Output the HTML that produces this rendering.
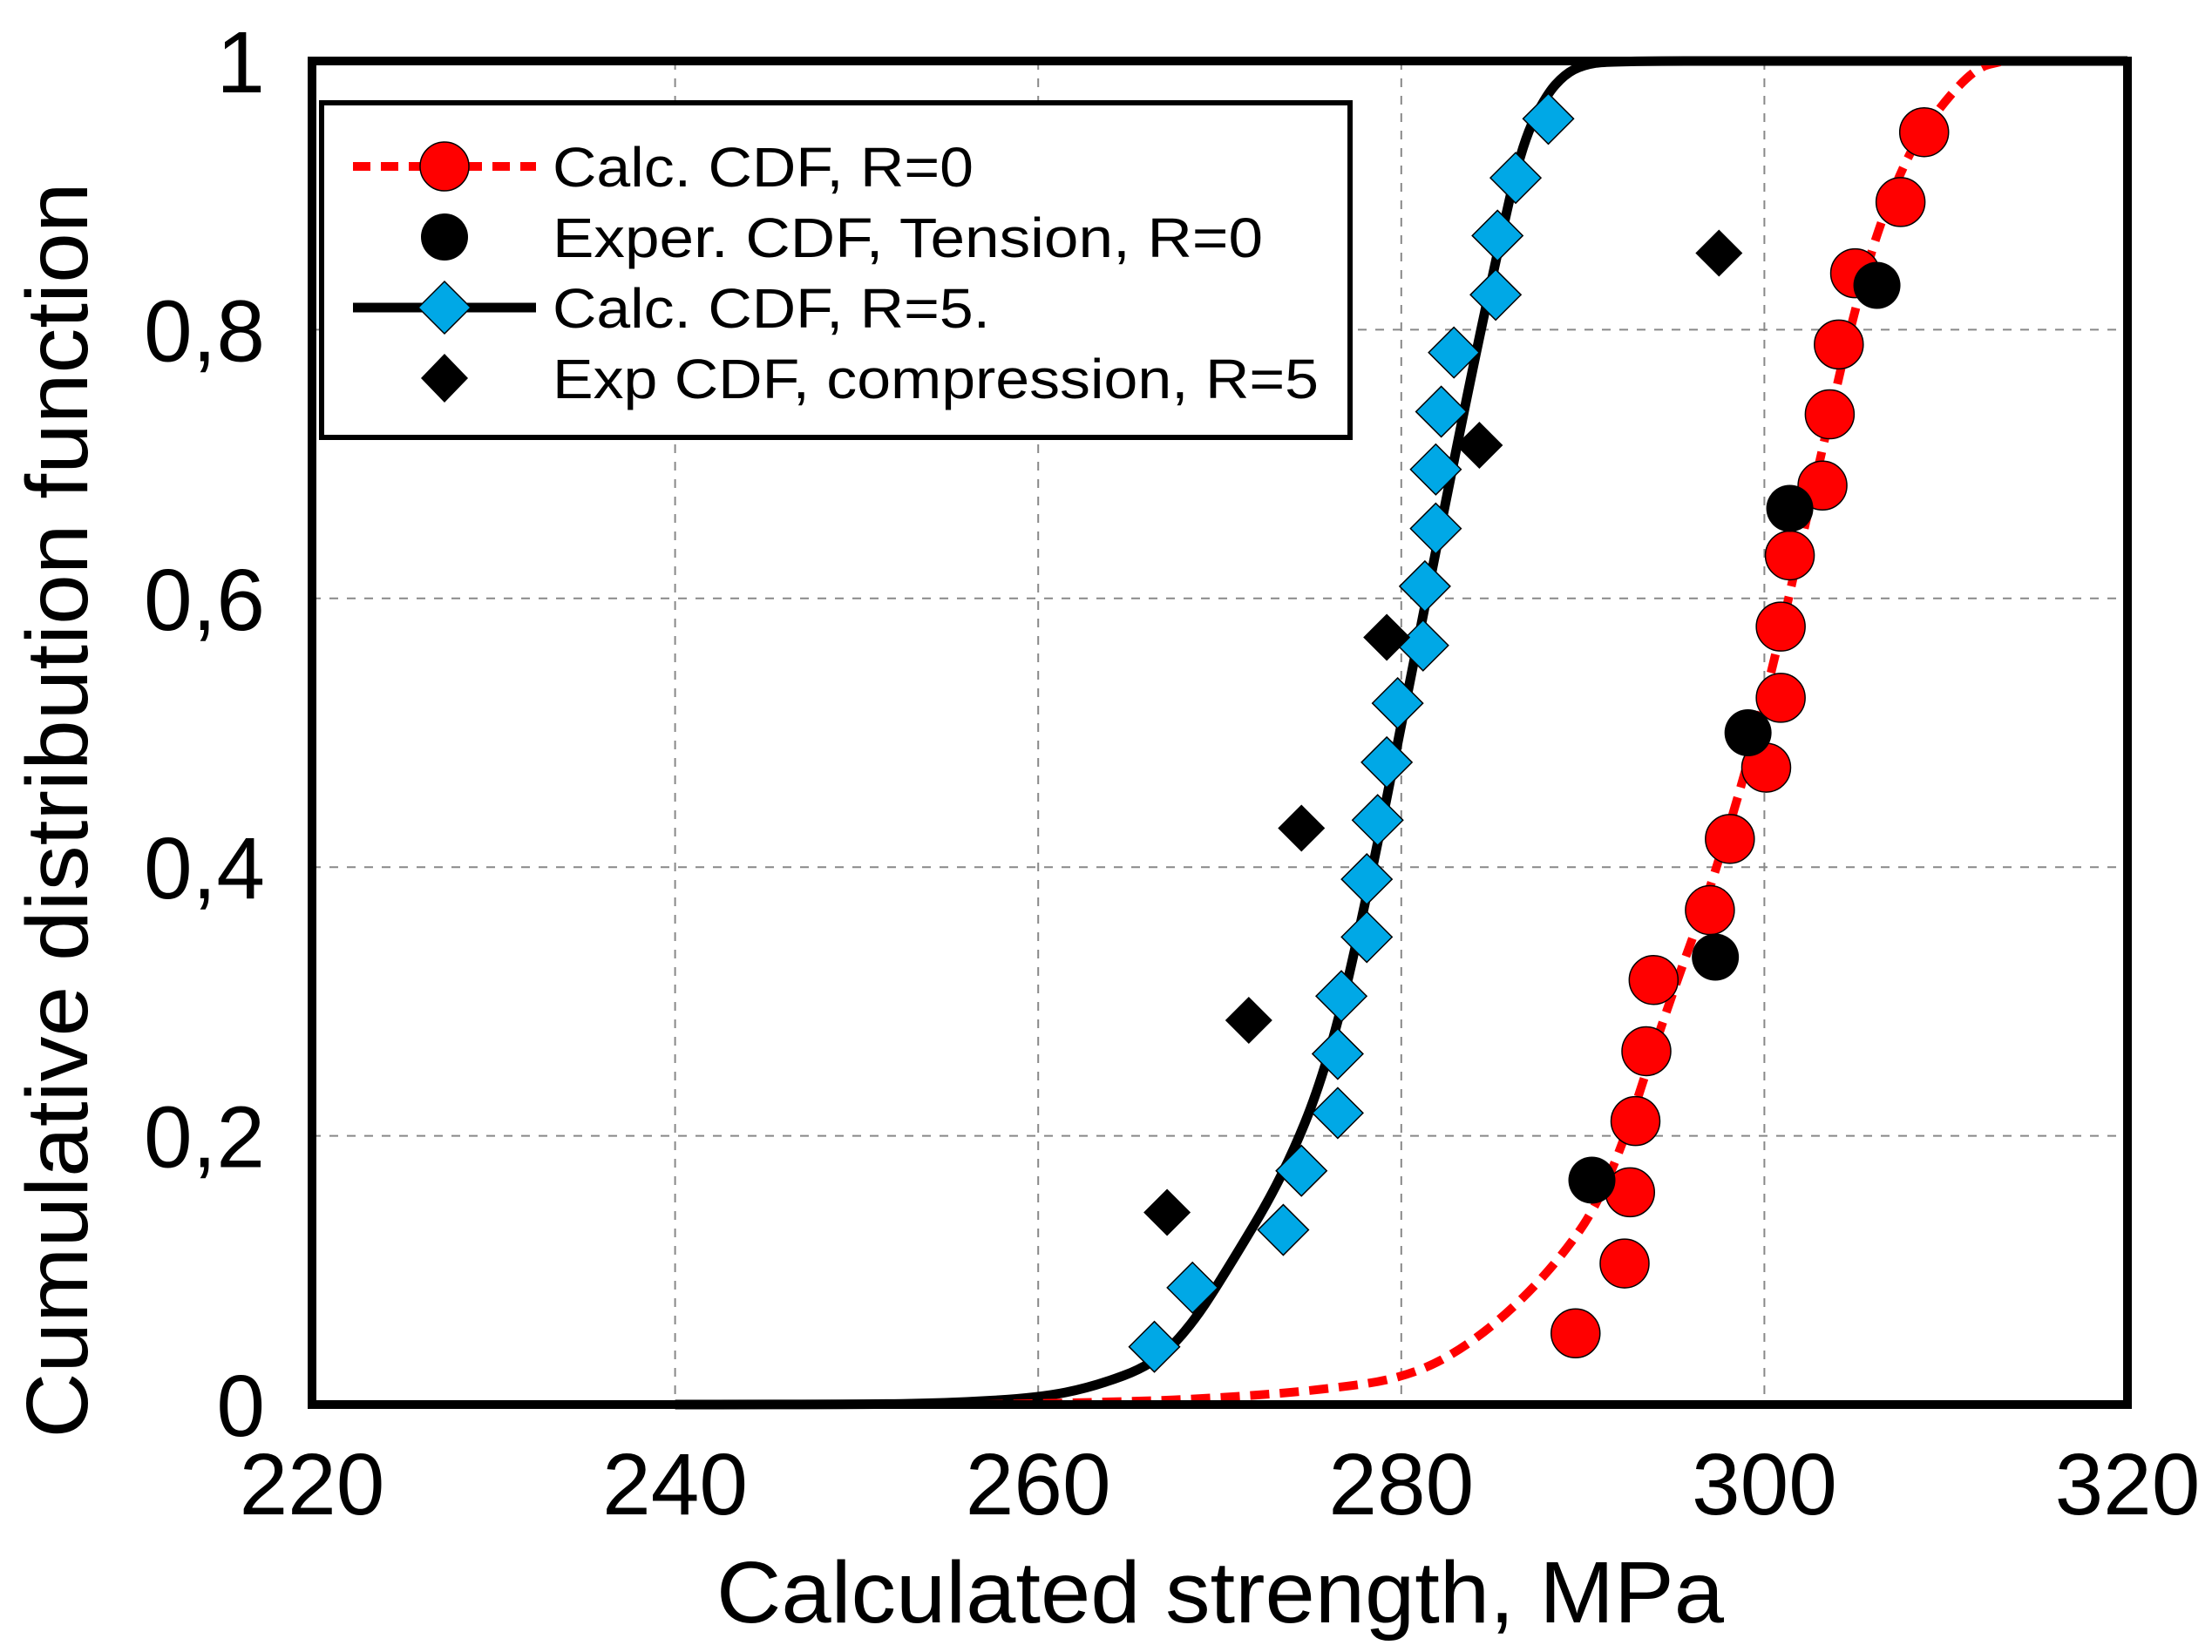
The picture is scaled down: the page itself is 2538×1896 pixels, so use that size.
<!DOCTYPE html>
<html><head><meta charset="utf-8"><style>
html,body{margin:0;padding:0;background:#fff;}
svg{display:block;font-family:"Liberation Sans",Arial,sans-serif;}
</style></head><body>
<svg id="chart" width="2538" height="1896" viewBox="0 0 2538 1896" xmlns="http://www.w3.org/2000/svg">
<rect width="2538" height="1896" fill="#fff"/>
<g id="grid"></g>
<g id="curves"></g>
<g id="marks"></g>
<rect x="358" y="70" width="2083" height="1542" fill="none" stroke="#000" stroke-width="10"/>
<g id="ticks"></g>
<text x="1400" y="1862" font-size="100" text-anchor="middle" textLength="1156" lengthAdjust="spacingAndGlyphs">Calculated strength, MPa</text>
<text transform="translate(100,930) rotate(-90)" x="0" y="0" font-size="100" text-anchor="middle" textLength="1441" lengthAdjust="spacingAndGlyphs">Cumulative distribution function</text>
<g>
<rect x="369" y="118" width="1180" height="384" fill="#fff" stroke="#000" stroke-width="6"/>
<g>
<line x1="405" y1="191" x2="615" y2="191" stroke="#f00" stroke-width="10" stroke-dasharray="20,12"/>
<circle cx="510" cy="191" r="28" fill="#f00" stroke="#000" stroke-width="1.5"/>
<text x="634" y="214" font-size="64" textLength="483" lengthAdjust="spacingAndGlyphs">Calc. CDF, R=0</text></g>
<g>
<circle cx="510" cy="272" r="27" fill="#000"/>
<text x="634" y="295" font-size="64" textLength="815" lengthAdjust="spacingAndGlyphs">Exper. CDF, Tension, R=0</text></g>
<g>
<line x1="405" y1="353" x2="615" y2="353" stroke="#000" stroke-width="11"/>
<polygon points="510,323 540,353 510,383 480,353" fill="#00a8e6" stroke="#000" stroke-width="1.5"/>
<text x="634" y="376" font-size="64" textLength="502" lengthAdjust="spacingAndGlyphs">Calc. CDF, R=5.</text></g>
<g>
<polygon points="510,406 537,434 510,462 483,434" fill="#000"/>
<text x="634" y="457" font-size="64" textLength="879" lengthAdjust="spacingAndGlyphs">Exp CDF, compression, R=5</text></g>
</g>
</svg>
<script>
const xTicks = [220, 240, 260, 280, 300, 320];
const yTicks = [0, 0.2, 0.4, 0.6, 0.8, 1];
const yTickLabels = ["0", "0,2", "0,4", "0,6", "0,8", "1"];
const calcR0X = [289.6,292.3,292.6,292.9,293.5,293.9,297.0,298.1,300.1,300.9,300.9,301.4,303.2,303.6,304.1,305.0,307.5,308.8];
const calcR0Y = [0.053,0.105,0.158,0.211,0.263,0.316,0.368,0.421,0.474,0.526,0.579,0.632,0.684,0.737,0.789,0.842,0.895,0.947];
const expTensionX = [290.5,297.3,299.1,301.4,306.2];
const expTensionY = [0.167,0.333,0.5,0.667,0.833];
const calcR5X = [266.4,268.5,273.5,274.5,276.5,276.5,276.7,278.1,278.1,278.7,279.2,279.8,281.2,281.3,281.9,281.9,282.2,282.9,285.2,285.3,286.3,288.1];
const calcR5Y = [0.043,0.087,0.130,0.174,0.217,0.261,0.304,0.348,0.391,0.435,0.478,0.522,0.565,0.609,0.652,0.696,0.739,0.783,0.826,0.870,0.913,0.957];
const expCompX = [267.1,271.6,274.5,279.2,284.3,297.5];
const expCompY = [0.143,0.286,0.429,0.571,0.714,0.857];
const curveR5X = [240,250,255,260,263,266.4,268.5,270.4,273.5,275.9,278,280.5,283.6,285.5,286.7,288,289,290,291.4,300,320];
const curveR5Y = [0,0,0.001,0.005,0.013,0.03,0.06,0.10,0.17,0.25,0.37,0.54,0.75,0.87,0.94,0.975,0.99,0.997,1,1,1];
const curveR0X = [257,265,270,275,280.5,284.4,288.3,291.4,294.5,297.2,300,303,305.4,307.5,309.3,311.6,313.2];
const curveR0Y = [0,0.002,0.005,0.01,0.02,0.05,0.10,0.16,0.29,0.39,0.52,0.70,0.84,0.92,0.96,0.995,1];

const X0=358,X1=2441,Y0=1612,Y1=70;
function sx(v){return X0+(v-220)/100*(X1-X0);}
function sy(v){return Y0-v*(Y0-Y1);}
const NS="http://www.w3.org/2000/svg";
function mk(tag,attrs,parent){const e=document.createElementNS(NS,tag);for(const k in attrs)e.setAttribute(k,attrs[k]);parent.appendChild(e);return e;}
const grid=document.getElementById('grid'),ticks=document.getElementById('ticks'),curves=document.getElementById('curves'),marks=document.getElementById('marks');
xTicks.forEach(t=>{
  if(t>220&&t<320){const l=mk('line',{x1:sx(t),x2:sx(t),y1:Y1,y2:Y0,stroke:'#888','stroke-width':2,'stroke-dasharray':'10,10'},grid);
  
  }
  const tx=mk('text',{x:sx(t),y:1738,'font-size':100,'text-anchor':'middle'},ticks);tx.textContent=t;
  
  
});
yTicks.forEach((t,i)=>{
  if(t>0&&t<1){const l=mk('line',{x1:X0,x2:X1,y1:sy(t),y2:sy(t),stroke:'#888','stroke-width':2,'stroke-dasharray':'10,10'},grid);
  
  }
  const tx=mk('text',{x:304,y:sy(t)+36,'font-size':100,'text-anchor':'end'},ticks);tx.textContent=yTickLabels[i];
  
  
});
function pathOf(xs,ys){
  const p=xs.map((x,i)=>[sx(x),sy(ys[i])]);
  let d='M'+p[0][0].toFixed(1)+','+p[0][1].toFixed(1);
  for(let i=1;i<p.length-1;i++){
    const mx=(p[i][0]+p[i+1][0])/2,my=(p[i][1]+p[i+1][1])/2;
    d+=' Q'+p[i][0].toFixed(1)+','+p[i][1].toFixed(1)+' '+mx.toFixed(1)+','+my.toFixed(1);
  }
  const l=p[p.length-1];d+=' L'+l[0].toFixed(1)+','+l[1].toFixed(1);
  return d;
}
const c5=mk('path',{d:pathOf(curveR5X,curveR5Y),fill:'none',stroke:'#000','stroke-width':11,'stroke-linejoin':'round'},curves);


const c0=mk('path',{d:pathOf(curveR0X,curveR0Y),fill:'none',stroke:'#f00','stroke-width':10,'stroke-dasharray':'22,12'},curves);


calcR0X.forEach((x,i)=>{const c=mk('circle',{cx:sx(x),cy:sy(calcR0Y[i]),r:28,fill:'#f00',stroke:'#000','stroke-width':1.5},marks);
  
  });
calcR5X.forEach((x,i)=>{const cx=sx(x),cy=sy(calcR5Y[i]),h=29;
  const p=mk('polygon',{points:`${cx},${cy-h} ${cx+h},${cy} ${cx},${cy+h} ${cx-h},${cy}`,fill:'#00a8e6',stroke:'#000','stroke-width':1.5},marks);
  
  });
expCompX.forEach((x,i)=>{const cx=sx(x),cy=sy(expCompY[i]),h=27;
  const p=mk('polygon',{points:`${cx},${cy-h} ${cx+h},${cy} ${cx},${cy+h} ${cx-h},${cy}`,fill:'#000'},marks);
  
  });
expTensionX.forEach((x,i)=>{const c=mk('circle',{cx:sx(x),cy:sy(expTensionY[i]),r:27,fill:'#000'},marks);
  
  });
</script>
</body></html>
